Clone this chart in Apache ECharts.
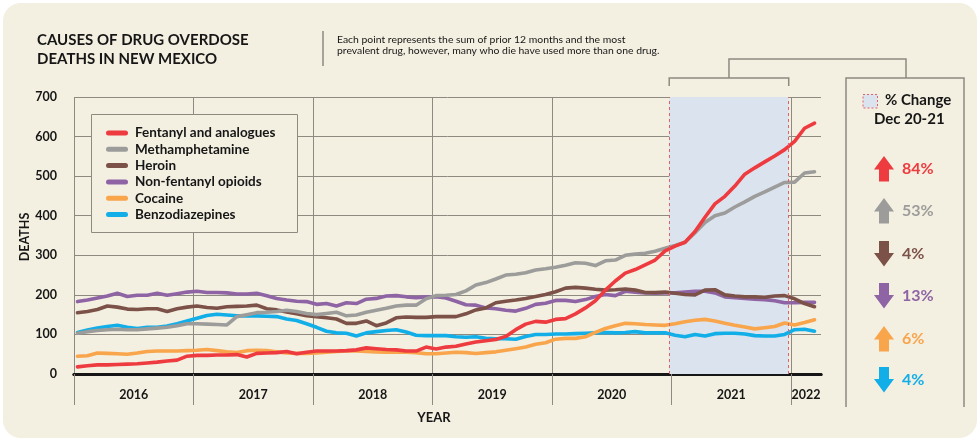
<!DOCTYPE html>
<html><head><meta charset="utf-8">
<script src="https://cdn.jsdelivr.net/npm/echarts@6/dist/echarts.min.js"></script>
<style>html,body{margin:0;padding:0;background:#fff}#c{width:980px;height:441px}</style>
</head><body><div id="c"></div>
<script>
// ---------- DATA ----------
const months = [];
for (let y = 2016; y <= 2022; y++) for (let m = 1; m <= 12; m++) { if (y === 2022 && m > 3) break; months.push(y + '-' + String(m).padStart(2, '0')); }

const fentanyl = [18,21,23,23,24,25,26,28,30,33,35,45, 47,47,48,48,49,43,52,53,54,57,51,55, 58,58,58,59,61,66,64,62,61,58,58,68, 63,68,70,76,81,84,87,95,112,126,133,131, 138,140,152,167,185,212,235,255,264,276,288,311, 323,333,360,396,430,449,475,505,521,536,551,567, 588,621,634];
const meth = [103,107,110,112,113,112,112,114,116,118,122,127, 127,126,125,124,145,150,155,156,158,161,158,153, 150,153,156,147,149,156,161,166,172,174,174,190, 198,199,201,210,225,231,240,250,252,256,263,266, 270,275,281,280,274,286,288,300,303,305,310,318, 325,333,357,383,400,407,422,435,449,460,472,484, 485,508,511];
const heroin = [155,158,163,172,169,164,163,165,165,158,165,169, 172,168,166,170,171,172,174,165,162,157,152,147, 145,142,139,128,128,134,122,129,142,144,143,143, 145,145,145,152,162,167,180,184,187,191,196,201, 208,217,219,217,214,212,213,215,212,206,206,207, 204,201,200,212,213,200,197,195,195,194,197,198, 190,178,170];
const opioids = [183,187,192,197,204,196,199,199,204,199,203,207, 209,206,206,205,202,202,204,198,191,187,184,183, 176,178,172,180,178,189,191,197,198,195,193,195, 195,192,184,175,174,167,165,161,159,166,176,179, 186,186,183,188,196,201,198,209,207,205,204,205, 205,207,209,209,205,195,193,191,189,188,185,180, 180,181,181];
const cocaine = [45,46,53,52,51,50,53,57,58,58,58,59, 60,62,59,56,54,59,60,59,56,53,52,52, 53,55,57,58,58,57,56,55,55,55,54,51, 51,53,55,54,52,54,56,60,64,68,75,79, 88,90,90,94,105,115,122,128,127,125,124,123, 127,132,136,138,134,128,123,119,114,117,120,129, 124,130,137];
const benzo = [105,111,116,120,123,118,115,118,118,121,127,134, 141,148,151,149,147,147,147,146,145,139,135,127, 118,108,104,103,96,104,107,110,112,106,98,97, 97,97,94,93,94,90,89,89,88,95,100,100, 101,101,102,103,104,105,104,105,107,104,104,104, 98,94,100,96,102,103,103,101,97,96,96,100, 112,113,108];

const seriesNames = ['Fentanyl and analogues','Methamphetamine','Heroin','Non-fentanyl opioids','Cocaine','Benzodiazepines'];
const yearTicks = [2016,2017,2018,2019,2020,2021,2022];
const yearLabelPos = [2016.5,2017.5,2018.5,2019.5,2020.5,2021.5,2022.125];
const shadeRange = [2020.98, 2021.98];
const changeLabels = ['84%','53%','4%','13%','6%','4%'];
const changeDirs = ['up','up','down','down','up','down'];

// ---------- STYLE ----------
const FONT = 'Lato, "Noto Sans", sans-serif';
const INK = '#161616';
const GRID = '#8e8a80';
const CREAM = '#f3efe1';
const SHADE = '#dbe3ee';
const colors = ['#ee3b3f','#9c9c9a','#7c5148','#8e64a4','#f9a54c','#12aee8'];

function monthToX(s) { const p = s.split('-').map(Number); return p[0] + (p[1] - 1 + 0.35) / 12; }
function pairs(arr) { return months.map((m, i) => [monthToX(m), arr[i]]); }

const dataSets = [fentanyl, meth, heroin, opioids, cocaine, benzo];
const drawOrder = [5,4,3,2,1,0];

const series = drawOrder.map(k => ({
  name: seriesNames[k], type: 'line', data: pairs(dataSets[k]),
  showSymbol: false, symbol: 'none', silent: true, z: 2 + (5 - k) * 0.01,
  lineStyle: { color: colors[k], width: 3.6, cap: 'round', join: 'round' },
  itemStyle: { color: colors[k] }
}));
series.push({
  name: 'shade', type: 'line', data: [], z: -1, silent: true,
  markArea: { silent: true, itemStyle: { color: SHADE }, data: [[{ xAxis: shadeRange[0] }, { xAxis: shadeRange[1] }]] },
  markLine: { silent: true, symbol: 'none', label: { show: false },
    lineStyle: { color: '#e2606c', type: [3, 3], width: 1 },
    data: [{ xAxis: shadeRange[0] }, { xAxis: shadeRange[1] }] }
});

const chart = echarts.init(document.getElementById('c'), null, { renderer: 'canvas' });
chart.setOption({
  backgroundColor: '#ffffff',
  animation: false,
  textStyle: { fontFamily: FONT },
  grid: { left: 74, right: 159, top: 97, bottom: 67, containLabel: false },
  xAxis: [{
    type: 'value', min: 2016, max: 2022.25, interval: 1,
    axisLine: { show: true, onZero: false, lineStyle: { color: INK, width: 3 } },
    axisTick: { show: true, customValues: yearTicks, length: 31, lineStyle: { color: GRID, width: 1 } },
    axisLabel: { customValues: yearLabelPos, formatter: v => String(Math.floor(v)), margin: 14,
      fontFamily: FONT, fontWeight: 'bold', fontSize: 12.5, color: INK },
    splitLine: { show: true, lineStyle: { color: GRID, width: 1 } },
    name: 'YEAR', nameLocation: 'middle', nameGap: 37,
    nameTextStyle: { fontFamily: FONT, fontWeight: 'bold', fontSize: 13, color: INK, padding: [0, 27, 0, 0] }
  }, {
    type: 'value', position: 'top', min: 2016, max: 2022.25,
    axisLine: { show: true, lineStyle: { color: INK, width: 3 } },
    axisTick: { show: false }, axisLabel: { show: false }, splitLine: { show: false }
  }],
  yAxis: {
    type: 'value', min: 0, max: 700, interval: 100,
    axisLine: { show: false }, axisTick: { show: false },
    axisLabel: { margin: 17, fontFamily: FONT, fontWeight: 'bold', fontSize: 12.5, color: INK },
    splitLine: { lineStyle: { color: GRID, width: 1 } }
  },
  legend: {
    orient: 'vertical', left: 106, top: 125, padding: 0, itemGap: 0.3,
    itemWidth: 22, itemHeight: 5, selectedMode: false,
    icon: 'path://M2.5,0H19.5A2.5,2.5,0,0,1,19.5,5H2.5A2.5,2.5,0,0,1,2.5,0Z',
    textStyle: { fontFamily: FONT, fontWeight: 'bold', fontSize: 13.5, color: INK, lineHeight: 16, padding: [0, 0, 0, 2] },
    data: seriesNames
  },
  series: series
});

// ---------- DECORATIONS ----------
const px = v => chart.convertToPixel({ xAxisIndex: 0 }, v);
const sx0 = px(shadeRange[0]), sx1 = px(shadeRange[1]);
const gx = [];
gx.push({ type: 'rect', z: -10, shape: { x: 3, y: 3, width: 974, height: 435, r: 18 }, style: { fill: CREAM } });
gx.push({ type: 'text', left: 37, top: 33, style: { text: 'CAUSES OF DRUG OVERDOSE', font: 'bold 15px ' + FONT, fill: INK } });
gx.push({ type: 'text', left: 37, top: 51.5, style: { text: 'DEATHS IN NEW MEXICO', font: 'bold 15px ' + FONT, fill: INK } });
gx.push({ type: 'line', shape: { x1: 323, y1: 31, x2: 323, y2: 66 }, style: { stroke: GRID, lineWidth: 1.5 } });
gx.push({ type: 'text', left: 337, top: 34.5, style: { text: 'Each point represents the sum of prior 12 months and the most', font: '10.4px ' + FONT, fill: INK } });
gx.push({ type: 'text', left: 337, top: 45.5, style: { text: 'prevalent drug, however, many who die have used more than one drug.', font: '10.4px ' + FONT, fill: INK } });
gx.push({ type: 'text', x: 24.5, y: 237, rotation: Math.PI / 2, style: { text: 'DEATHS', font: 'bold 12.5px ' + FONT, fill: INK, align: 'center', verticalAlign: 'middle' } });
gx.push({ type: 'rect', z: 3, shape: { x: 91.5, y: 114.5, width: 206, height: 118 }, style: { fill: CREAM, stroke: GRID, lineWidth: 1 } });
// bracket above shaded region
gx.push({ type: 'polyline', shape: { points: [[sx0, 86], [sx0, 78], [sx1, 78], [sx1, 86]] }, style: { fill: null, stroke: GRID, lineWidth: 1.5 } });
const bc = (sx0 + sx1) / 2;
gx.push({ type: 'polyline', shape: { points: [[bc, 78], [bc, 59], [906, 59], [906, 78]] }, style: { fill: null, stroke: GRID, lineWidth: 1.5 } });
gx.push({ type: 'polyline', shape: { points: [[846, 407], [846, 78], [964, 78], [964, 407]] }, style: { fill: null, stroke: GRID, lineWidth: 1.5 } });
// key swatch
gx.push({ type: 'rect', shape: { x: 863, y: 94.5, width: 14.5, height: 13.5 }, style: { fill: SHADE, stroke: '#e2606c', lineWidth: 1, lineDash: [2, 2] } });
gx.push({ type: 'text', left: 885, top: 93, style: { text: '% Change', font: 'bold 15px ' + FONT, fill: INK } });
gx.push({ type: 'text', left: 874, top: 112, style: { text: 'Dec 20-21', font: 'bold 15px ' + FONT, fill: INK } });
// arrows
const arrowTops = [156, 198, 241, 283, 326, 367];
const cx = 884;
changeLabels.forEach((lab, k) => {
  const t = arrowTops[k], b = t + 25.5, c = colors[k];
  let pts;
  if (changeDirs[k] === 'up') {
    pts = [[cx, t], [cx + 10, t + 13.5], [cx + 5, t + 13.5], [cx + 5, b], [cx - 5, b], [cx - 5, t + 13.5], [cx - 10, t + 13.5]];
  } else {
    pts = [[cx - 5, t], [cx + 5, t], [cx + 5, t + 12], [cx + 10, t + 12], [cx, b], [cx - 10, t + 12], [cx - 5, t + 12]];
  }
  gx.push({ type: 'polygon', shape: { points: pts }, style: { fill: c } });
  gx.push({ type: 'text', left: 902, top: t + 14 - 9, style: { text: lab, font: 'bold 16px ' + FONT, fill: c } });
});
chart.setOption({ graphic: { elements: gx } });
</script>
</body></html>
